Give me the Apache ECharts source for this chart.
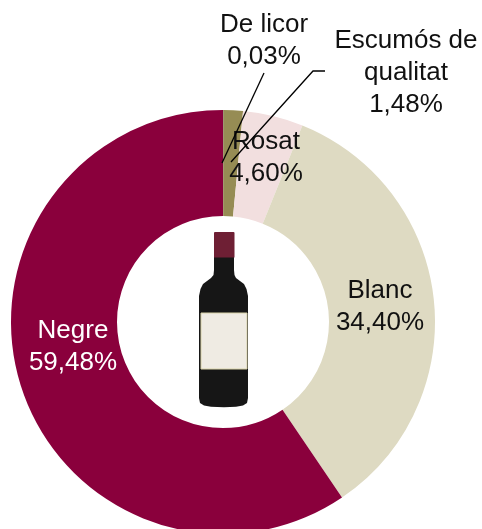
<!DOCTYPE html>
<html><head><meta charset="utf-8">
<style>html,body{margin:0;padding:0;background:#fff}#c{width:482px;height:529px}</style>
<script src="https://cdn.jsdelivr.net/npm/echarts@6/dist/echarts.min.js"></script>
</head><body><div id="c"></div>
<script>
const categories = ['De licor','Escumós de\nqualitat','Rosat','Blanc','Negre'];
const values = [0.03,1.48,4.60,34.40,59.48];
const valueLabels = ['0,03%','1,48%','4,60%','34,40%','59,48%'];
const colors = ['#1f1a10','#968c54','#f2dfdf','#dedac2','#8a003c'];
const textColors = ['#111','#111','#111','#111','#fff'];
const labelAnchors = [[264,41],[406,73],[266,158],[380,307],[73,347]];
const bottleOutline = [[214,257],[234,257],[234,270],[234.5,275],[236,278],[240,281],[244,284],[246.5,289],[248,296],[248,398],[247,403],[243,405.5],[236,406.8],[224,407.3],[211,406.8],[204,405.5],[200,403],[199,398],[199,296],[200.5,289],[203,284],[207,281],[211,278],[213.5,275],[214,270]];

const chart = echarts.init(document.getElementById('c'),null,{renderer:'canvas'});
const blk = '#000';
chart.setOption({
  animation:false,
  backgroundColor:'#fff',
  series:[{
    type:'pie',
    center:[223,322],
    radius:[106,212],
    startAngle:90,
    clockwise:true,
    avoidLabelOverlap:false,
    silent:true,
    z:2,
    data:categories.map((n,i)=>({
      name:n,value:values[i],
      itemStyle:{color:colors[i]},
      label:{color:textColors[i]}
    })),
    label:{
      show:true,position:'inside',
      fontFamily:'Liberation Sans',fontSize:26,lineHeight:32,
      align:'center',verticalAlign:'middle',
      formatter:p=>p.name+'\n'+valueLabels[p.dataIndex]
    },
    labelLine:{show:false},
    labelLayout:p=>({x:labelAnchors[p.dataIndex][0],y:labelAnchors[p.dataIndex][1],align:'center',verticalAlign:'middle'})
  }],
  graphic:[
    {type:'polyline',z:10,shape:{points:[[264,73],[222,163]]},style:{stroke:blk,lineWidth:1.3,fill:null}},
    {type:'polyline',z:10,shape:{points:[[325,71],[313,71],[231,162]]},style:{stroke:blk,lineWidth:1.3,fill:null}},
    {type:'polygon',z:11,shape:{points:bottleOutline},style:{fill:'#161616'}},
    {type:'rect',z:12,shape:{x:214,y:232,width:20.5,height:25.5,r:[1,1,0,0]},style:{fill:'#6e1f34'}},
    {type:'rect',z:12,shape:{x:201,y:313,width:46,height:56},style:{fill:'#efebe3',stroke:'#d8d2a8',lineWidth:1}}
  ]
});
</script></body></html>
